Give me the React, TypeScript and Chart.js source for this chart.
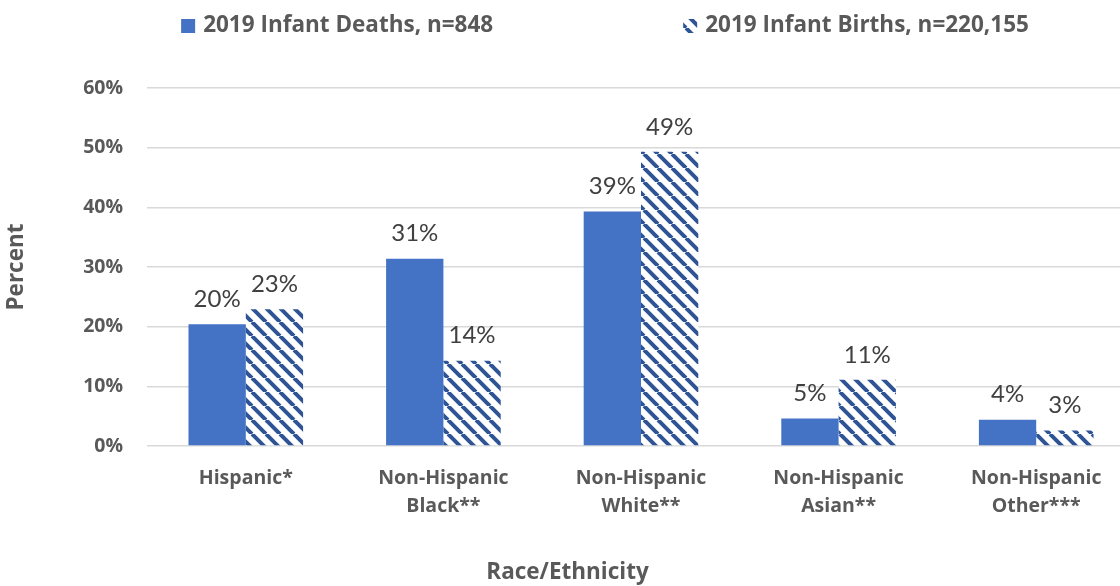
import React, { useEffect, useRef } from 'react';
import { Chart, registerables } from 'chart.js';

Chart.register(...registerables);

// ---- data ----
const categories: (string | string[])[] = [
  'Hispanic*',
  ['Non-Hispanic', 'Black**'],
  ['Non-Hispanic', 'White**'],
  ['Non-Hispanic', 'Asian**'],
  ['Non-Hispanic', 'Other***'],
];
const deathsPct = [20.4, 31.4, 39.3, 4.6, 4.4];
const birthsPct = [22.9, 14.3, 49.3, 11.1, 2.6];
const seriesLabels = ['2019 Infant Deaths, n=848', '2019 Infant Births, n=220,155'];
const yTickValues = [0, 10, 20, 30, 40, 50, 60];
const xTitle = 'Race/Ethnicity';
const yTitle = 'Percent';

// ---- styles ----
const SOLID = '#4472C4';
const HATCH = '#2F5496';
const TEXT = '#595959';
const LABEL = '#404040';
const GRID = '#D9D9D9';
const BOLD_FONT = '"Open Sans"';
const LABEL_FONT = 'Lato';
const W = 1135;
const H = 586;
const CHART_BOTTOM = 446;
const TITLE_FONT_SIZE = 22.5;
const TITLE_LH = 1.2;
const LEGEND_CX = 605;
const LEGEND_Y = 26;

export default function App() {
  const ref = useRef<HTMLCanvasElement>(null);

  useEffect(() => {
    const canvas = ref.current;
    if (!canvas) return;
    const ctx = canvas.getContext('2d')!;

    const s = 14;
    const tile = document.createElement('canvas');
    tile.width = s;
    tile.height = s;
    const t = tile.getContext('2d')!;
    t.fillStyle = '#ffffff';
    t.fillRect(0, 0, s, s);
    t.strokeStyle = HATCH;
    t.lineWidth = 4;
    t.beginPath();
    for (const o of [-s, 0, s]) {
      t.moveTo(o, 0);
      t.lineTo(o + s, s);
    }
    t.stroke();
    const pattern = ctx.createPattern(tile, 'repeat')!;

    const legendPlugin = {
      id: 'customLegend',
      afterDraw(chart: any) {
        const c = chart.ctx;
        c.save();
        c.font = `bold 22.5px ${BOLD_FONT}`;
        c.textBaseline = 'middle';
        c.textAlign = 'left';
        const box = 14;
        const gapText = 8;
        const gapItem = 190;
        const ds = chart.data.datasets;
        const widths = ds.map((d: any) => c.measureText(d.label).width);
        const total = widths.reduce((a: number, w: number) => a + box + gapText + w, 0) + gapItem * (ds.length - 1);
        let x = LEGEND_CX - total / 2;
        ds.forEach((d: any, i: number) => {
          c.fillStyle = d.backgroundColor;
          c.fillRect(x, LEGEND_Y - box / 2, box, box);
          x += box + gapText;
          c.fillStyle = TEXT;
          c.fillText(d.label, x, LEGEND_Y);
          x += widths[i] + gapItem;
        });
        c.restore();
      },
    };

    const dataLabelPlugin = {
      id: 'dataLabels',
      afterDatasetsDraw(chart: any) {
        const c = chart.ctx;
        c.save();
        c.font = `24px ${LABEL_FONT}`;
        c.fillStyle = LABEL;
        c.textAlign = 'center';
        c.textBaseline = 'middle';
        chart.data.datasets.forEach((d: any, i: number) => {
          const meta = chart.getDatasetMeta(i);
          meta.data.forEach((bar: any, j: number) => {
            c.fillText(`${Math.round(d.data[j])}%`, bar.x, bar.y - 25);
          });
        });
        c.restore();
      },
    };

    const chart = new Chart(ctx, {
      type: 'bar',
      data: {
        labels: categories,
        datasets: [
          {
            label: seriesLabels[0],
            data: deathsPct,
            backgroundColor: SOLID,
            borderWidth: 0,
            categoryPercentage: 0.58,
            barPercentage: 1.0,
          },
          {
            label: seriesLabels[1],
            data: birthsPct,
            backgroundColor: pattern as any,
            borderWidth: 0,
            categoryPercentage: 0.58,
            barPercentage: 1.0,
          },
        ],
      },
      options: {
        responsive: false,
        animation: false,
        layout: { padding: { top: 88, left: 0, right: 0, bottom: 0 } },
        plugins: {
          legend: { display: false },
          tooltip: { enabled: false },
          title: {
            display: true,
            text: xTitle,
            position: 'bottom',
            color: TEXT,
            font: { family: BOLD_FONT, size: TITLE_FONT_SIZE, weight: 'bold', lineHeight: TITLE_LH },
            padding: { top: 0, bottom: 0 },
          },
        },
        scales: {
          x: {
            grid: { display: false, drawTicks: false },
            border: { display: false },
            ticks: {
              color: TEXT,
              font: { family: BOLD_FONT, size: 19.5, weight: 'bold', lineHeight: '28px' },
              padding: 18,
              maxRotation: 0,
              autoSkip: false,
            },
            afterFit(scale: any) {
              scale.height = H - CHART_BOTTOM - TITLE_FONT_SIZE * TITLE_LH;
            },
          },
          y: {
            min: 0,
            max: 60,
            afterBuildTicks(scale: any) {
              scale.ticks = yTickValues.map((v) => ({ value: v }));
            },
            ticks: {
              color: TEXT,
              font: { family: BOLD_FONT, size: 19.5, weight: 'bold' },
              padding: 24,
              callback: (v: any) => `${v}%`,
            },
            grid: { color: GRID, lineWidth: 1.5, drawTicks: false },
            border: { display: false },
            title: {
              display: true,
              text: yTitle,
              color: TEXT,
              font: { family: BOLD_FONT, size: 22.5, weight: 'bold', lineHeight: 1.2 },
              padding: { top: 3, bottom: 0 },
            },
            afterFit(scale: any) {
              scale.width = 147;
            },
          },
        },
      },
      plugins: [legendPlugin, dataLabelPlugin],
    } as any);

    return () => chart.destroy();
  }, []);

  return (
    <div style={{ position: 'absolute', left: 0, top: 0, width: 1120, height: H, overflow: 'hidden', background: '#fff' }}>
      <canvas ref={ref} width={W} height={H} style={{ display: 'block' }} />
    </div>
  );
}
